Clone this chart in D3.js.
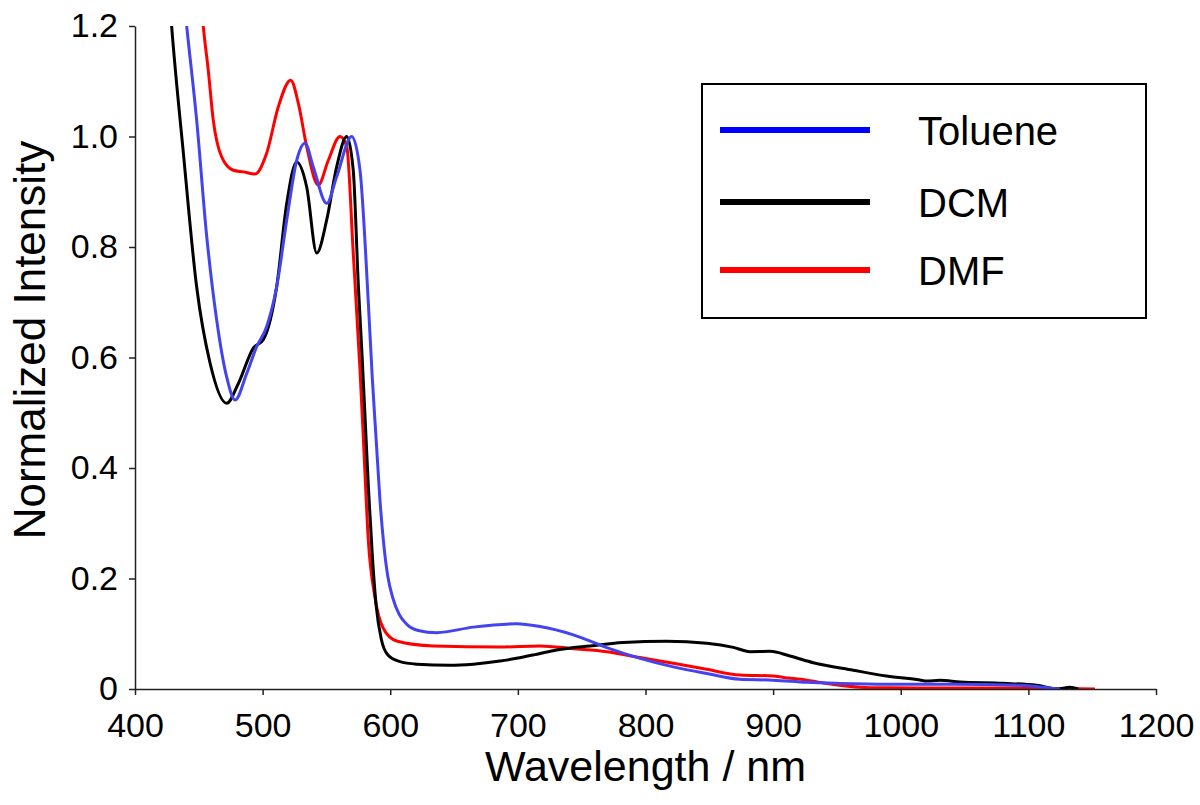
<!DOCTYPE html>
<html>
<head>
<meta charset="utf-8">
<script src="https://cdn.jsdelivr.net/npm/d3@7"></script>
<style>
  body { margin: 0; background: #fff; }
  svg { font-family: "Liberation Sans", Arial, sans-serif; }
</style>
</head>
<body>
<svg id="chart" width="1200" height="805"></svg>
<script>
// values
const tolueneX = [430, 440.5, 448.3, 456.2, 464, 471.8, 478.4, 487.5, 495.4, 503.2, 511, 518.9, 526.7, 533.2, 539.7, 550.2, 558, 569.8, 576.3, 582.8, 586, 589, 592, 595, 598, 602, 607, 613, 622, 636.4, 665, 699, 717.3, 743.4, 769.6, 795.7, 821.8, 847.9, 874, 900.1, 926.3, 952.4, 988.9, 1041, 1093.4, 1119.5, 1124.8];
const tolueneY = [1.45, 1.2, 1.03, 0.819, 0.668, 0.565, 0.523, 0.571, 0.62, 0.656, 0.728, 0.849, 0.957, 0.988, 0.945, 0.879, 0.927, 1.0, 0.939, 0.7, 0.56, 0.45, 0.34, 0.26, 0.205, 0.165, 0.135, 0.117, 0.106, 0.102, 0.112, 0.118, 0.113, 0.098, 0.075, 0.0555, 0.04, 0.028, 0.0175, 0.016, 0.012, 0.01, 0.0085, 0.0085, 0.0067, 0.001, 0];

const dcmX = [420, 428.7, 437.9, 448.3, 458.8, 471.8, 481, 492.7, 500.5, 511, 518.9, 526.7, 534.5, 542.4, 550.2, 558, 565.9, 571, 575, 578, 580.5, 583, 586, 589, 593, 598, 607, 620.7, 646.8, 665, 686, 699, 715, 730.4, 756.5, 782.6, 816.6, 847.9, 868.8, 881.9, 897.5, 913.2, 931.5, 962.8, 988.9, 1015, 1020.3, 1030.7, 1046.4, 1080.3, 1106.5, 1122.1, 1132.6, 1139];
const dcmY = [1.5, 1.2, 0.97, 0.728, 0.59, 0.517, 0.553, 0.617, 0.632, 0.728, 0.879, 0.954, 0.909, 0.789, 0.849, 0.945, 1.0, 0.939, 0.73, 0.6, 0.48, 0.36, 0.24, 0.15, 0.09, 0.062, 0.05, 0.045, 0.043, 0.045, 0.0505, 0.0555, 0.063, 0.0706, 0.078, 0.084, 0.0863, 0.0827, 0.0754, 0.0676, 0.0682, 0.0597, 0.0476, 0.034, 0.0235, 0.0163, 0.0145, 0.0157, 0.0127, 0.0103, 0.0067, 0, 0.003, 0];

const dmfX = [445, 453.5, 457.4, 461.3, 467.9, 477, 484.9, 494, 503.2, 512.3, 522, 528, 534.5, 543.6, 551.5, 560.6, 565.9, 571, 576.3, 579, 582.8, 588, 594.5, 605, 633.7, 686, 717.3, 743.4, 769.6, 795.7, 821.8, 847.9, 874, 900.1, 907.9, 926.3, 936.7, 975.8, 1015, 1067.3, 1120, 1152.2];
const dmfY = [1.5, 1.2, 1.12, 1.03, 0.963, 0.939, 0.936, 0.932, 0.97, 1.054, 1.102, 1.06, 0.982, 0.912, 0.957, 1.0, 0.982, 0.789, 0.577, 0.45, 0.27, 0.166, 0.11, 0.087, 0.078, 0.076, 0.078, 0.073, 0.0676, 0.057, 0.0465, 0.0356, 0.0253, 0.0235, 0.021, 0.016, 0.012, 0.0024, 0.002, 0.002, 0.001, 0];

const seriesNames = ["Toluene", "DCM", "DMF"];
const xTicks = [400, 500, 600, 700, 800, 900, 1000, 1100, 1200];
const yTicks = [0, 0.2, 0.4, 0.6, 0.8, 1.0, 1.2];

const lineColors = ["#4343f0", "#000000", "#ff0000"];
const legendColors = ["#0000ff", "#000000", "#ff0000"];

const svg = d3.select("#chart");
const plotLeft = 135, plotRight = 1156, plotTop = 26, plotBottom = 689;

const x = d3.scaleLinear().domain([400, 1200]).range([plotLeft, plotRight]);
const y = d3.scaleLinear().domain([0, 1.2]).range([plotBottom, plotTop]);

svg.append("defs").append("clipPath").attr("id", "plotClip")
  .append("rect")
  .attr("x", plotLeft).attr("y", plotTop)
  .attr("width", plotRight - plotLeft).attr("height", plotBottom - plotTop);

const series = [
  { name: seriesNames[0], xs: tolueneX, ys: tolueneY, color: lineColors[0] },
  { name: seriesNames[1], xs: dcmX, ys: dcmY, color: lineColors[1] },
  { name: seriesNames[2], xs: dmfX, ys: dmfY, color: lineColors[2] },
];

const line = d3.line()
  .x((d) => x(d[0]))
  .y((d) => y(d[1]))
  .curve(d3.curveMonotoneX);

const plot = svg.append("g").attr("clip-path", "url(#plotClip)");
// red first, then black, then blue on top
[series[2], series[1], series[0]].forEach((s) => {
  plot.append("path")
    .datum(s.xs.map((v, i) => [v, s.ys[i]]))
    .attr("d", line)
    .attr("fill", "none")
    .attr("stroke", s.color)
    .attr("stroke-width", 3)
    .attr("stroke-linejoin", "round");
});

// axes
const xAxis = svg.append("g")
  .attr("transform", `translate(0,${plotBottom})`)
  .call(d3.axisBottom(x).tickValues(xTicks).tickSize(6).tickSizeOuter(0).tickPadding(18)
    .tickFormat(d3.format("d")));
const yAxis = svg.append("g")
  .attr("transform", `translate(${plotLeft},0)`)
  .call(d3.axisLeft(y).tickValues(yTicks).tickSize(6).tickSizeOuter(0).tickPadding(11)
    .tickFormat((d) => (d === 0 ? "0" : d3.format(".1f")(d))));

[xAxis, yAxis].forEach((a) => {
  a.attr("font-size", null).attr("font-family", null);
  a.select(".domain").attr("stroke", "#222").attr("stroke-width", 1.5);
  a.selectAll(".tick line").attr("stroke", "#222").attr("stroke-width", 1.5);
  a.selectAll(".tick text")
    .attr("fill", "#000")
    .style("font-size", "34px");
});

svg.append("text")
  .attr("x", (plotLeft + plotRight) / 2)
  .attr("y", 781)
  .attr("text-anchor", "middle")
  .style("font-size", "43px")
  .text("Wavelength / nm");

svg.append("text")
  .attr("transform", "translate(45,340) rotate(-90)")
  .attr("text-anchor", "middle")
  .style("font-size", "44px")
  .text("Normalized Intensity");

// legend
const legend = svg.append("g");
legend.append("rect")
  .attr("x", 702).attr("y", 84)
  .attr("width", 444).attr("height", 234)
  .attr("fill", "#fff")
  .attr("stroke", "#000")
  .attr("stroke-width", 2);

const legendRows = [130, 202, 270];
seriesNames.forEach((name, i) => {
  legend.append("line")
    .attr("x1", 720).attr("x2", 870)
    .attr("y1", legendRows[i]).attr("y2", legendRows[i])
    .attr("stroke", legendColors[i])
    .attr("stroke-width", 6);
  legend.append("text")
    .attr("x", 918)
    .attr("y", legendRows[i] + 15)
    .style("font-size", "40px")
    .text(name);
});
</script>
</body>
</html>
